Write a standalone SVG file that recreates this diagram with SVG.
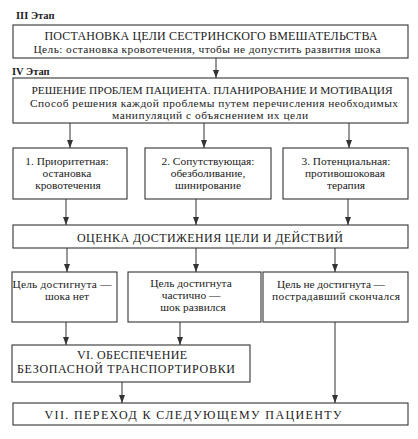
<svg xmlns="http://www.w3.org/2000/svg" width="418" height="439" viewBox="0 0 418 439">
<style>
.box{fill:#fff;stroke:#333;stroke-width:1.1}
.t{font-family:"Liberation Serif","Times New Roman",serif;font-size:11.4px;fill:#222;text-anchor:middle}
.h{font-size:12px}
.lbl{font-family:"Liberation Serif","Times New Roman",serif;font-size:10.5px;font-weight:bold;fill:#222}
.c{stroke:#333;stroke-width:1;fill:none;marker-end:url(#ah)}
</style>
<defs>
<marker id="ah" markerWidth="8" markerHeight="6" refX="8" refY="3" orient="auto" markerUnits="userSpaceOnUse">
<path d="M0,0 L8,3 L0,6 Z" fill="#333"/>
</marker>
</defs>
<rect width="418" height="439" fill="#fff"/>
<text class="lbl" x="16" y="19">III Этап</text>
<text class="lbl" x="12" y="75">IV Этап</text>
<g id="connectors">
<path class="c" d="M216,58 V78"/>
<path class="c" d="M70,123 V148"/>
<path class="c" d="M204,123 V148"/>
<path class="c" d="M349,123 V148"/>
<path class="c" d="M66,199 V225"/>
<path class="c" d="M196,199 V225"/>
<path class="c" d="M348,199 V225"/>
<path class="c" d="M67,248 V272"/>
<path class="c" d="M196,248 V272"/>
<path class="c" d="M335,248 V272"/>
<path class="c" d="M66,322 V345"/>
<path class="c" d="M180,322 V345"/>
<path class="c" d="M122,382 V403"/>
<path class="c" d="M335,322 V403"/>
</g>
<g id="n1">
<rect class="box" x="13" y="25" width="395" height="33"/>
<text class="t h" x="211" y="40" textLength="333" lengthAdjust="spacing">ПОСТАНОВКА ЦЕЛИ СЕСТРИНСКОГО ВМЕШАТЕЛЬСТВА</text>
<text class="t" x="207" y="53" textLength="347" lengthAdjust="spacing">Цель: остановка кровотечения, чтобы не допустить развития шока</text>
</g>
<g id="n2">
<rect class="box" x="13" y="78" width="395" height="45"/>
<text class="t" x="212" y="94" textLength="361" lengthAdjust="spacing">РЕШЕНИЕ ПРОБЛЕМ ПАЦИЕНТА. ПЛАНИРОВАНИЕ И МОТИВАЦИЯ</text>
<text class="t" x="214" y="107" textLength="368" lengthAdjust="spacing">Способ решения каждой проблемы путем перечисления необходимых</text>
<text class="t" x="210" y="119" textLength="196" lengthAdjust="spacing">манипуляций с объяснением их цели</text>
</g>
<g id="n3a">
<rect class="box" x="13" y="148" width="114" height="51"/>
<text class="t" x="67" y="165">1. Приоритетная:</text>
<text class="t" x="67" y="177">остановка</text>
<text class="t" x="68" y="189">кровотечения</text>
</g>
<g id="n3b">
<rect class="box" x="145" y="148" width="126" height="51"/>
<text class="t" x="208" y="165">2. Сопутствующая:</text>
<text class="t" x="208" y="177">обезболивание,</text>
<text class="t" x="208" y="189">шинирование</text>
</g>
<g id="n3c">
<rect class="box" x="283" y="148" width="125" height="51"/>
<text class="t" x="346" y="165">3. Потенциальная:</text>
<text class="t" x="345" y="177">противошоковая</text>
<text class="t" x="346" y="189">терапия</text>
</g>
<g id="n4">
<rect class="box" x="13" y="225" width="395" height="23"/>
<text class="t h" x="210" y="242" textLength="266" lengthAdjust="spacing">ОЦЕНКА ДОСТИЖЕНИЯ ЦЕЛИ И ДЕЙСТВИЙ</text>
</g>
<g id="n5a">
<rect class="box" x="12" y="272" width="105" height="50"/>
<text class="t" x="62" y="288" textLength="99" lengthAdjust="spacing">Цель достигнута —</text>
<text class="t" x="67" y="300">шока нет</text>
</g>
<g id="n5b">
<rect class="box" x="128" y="272" width="133" height="50"/>
<text class="t" x="191" y="287">Цель достигнута</text>
<text class="t" x="191" y="299">частично —</text>
<text class="t" x="193" y="311">шок развился</text>
</g>
<g id="n5c">
<rect class="box" x="263" y="272" width="145" height="50"/>
<text class="t" x="331" y="288" textLength="108" lengthAdjust="spacing">Цель не достигнута —</text>
<text class="t" x="336" y="300" textLength="128" lengthAdjust="spacing">пострадавший скончался</text>
</g>
<g id="n6">
<rect class="box" x="12" y="345" width="238" height="37"/>
<text class="t h" x="132" y="359" textLength="110" lengthAdjust="spacing">VI. ОБЕСПЕЧЕНИЕ</text>
<text class="t h" x="126" y="373" textLength="218" lengthAdjust="spacing">БЕЗОПАСНОЙ ТРАНСПОРТИРОВКИ</text>
</g>
<g id="n7">
<rect class="box" x="13" y="403" width="395" height="22"/>
<text class="t h" x="193" y="419" textLength="297" lengthAdjust="spacing">VII. ПЕРЕХОД К СЛЕДУЮЩЕМУ ПАЦИЕНТУ</text>
</g>
</svg>
